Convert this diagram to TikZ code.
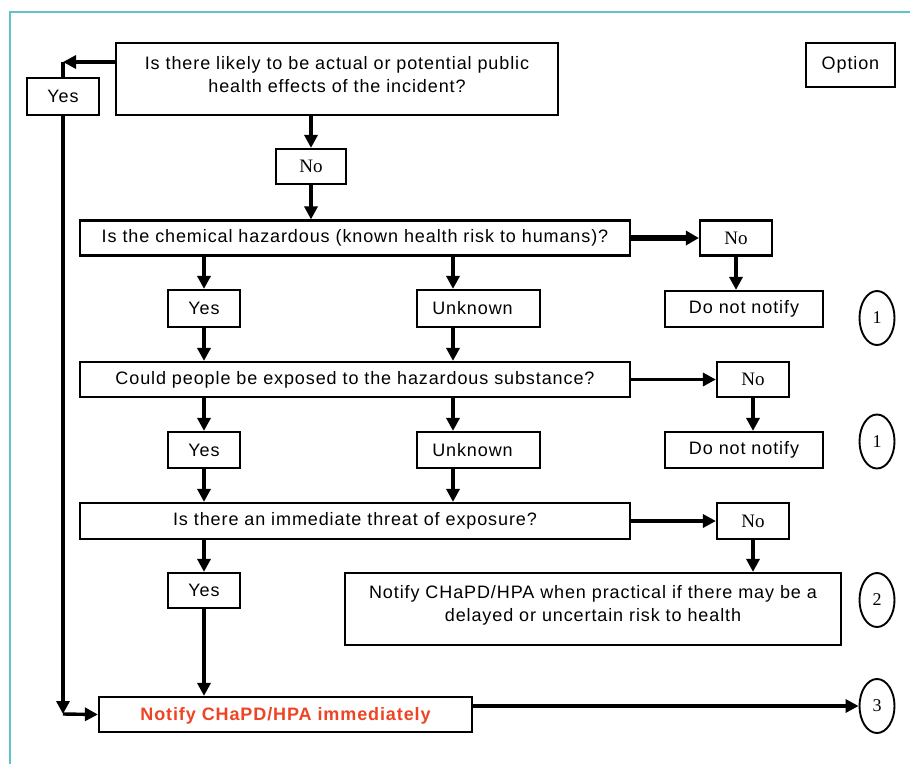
\documentclass[tikz,border=0pt]{standalone}
\usepackage{fontspec}
\setmainfont{Liberation Sans}
\newfontfamily\boxfont{Liberation Sans}[LetterSpace=5]
\newfontfamily\seriffont{Liberation Serif}
\usetikzlibrary{arrows.meta,shapes.geometric}
\definecolor{framecol}{RGB}{95,195,205}
\definecolor{alertred}{RGB}{238,68,36}
\begin{document}
\begin{tikzpicture}[x=1pt,y=-1pt,
  box/.style={draw, line width=2.2pt, inner sep=0pt, align=center,
    font=\boxfont\fontsize{18}{23}\selectfont},
  nobox/.style={box, font=\seriffont\fontsize{19}{22}\selectfont},
  circ/.style={draw, ellipse, line width=1.9pt, minimum width=35pt,
    minimum height=54pt, inner sep=0pt, font=\seriffont\fontsize{18}{20}\selectfont},
  arr/.style={line width=3.4pt, -{Triangle[length=13pt,width=13pt]}},
  plain/.style={line width=3.4pt},
]
\fill[white] (0,0) rectangle (910,764);
\useasboundingbox (0,0) rectangle (910,764);
\draw[framecol, line width=1.3pt] (10,764) -- (10,12) -- (910,12);

% nodes
\node[box, minimum width=442pt, minimum height=72pt, text depth=10pt] (q1) at (337,79)
  {Is there likely to be actual or potential public\\health effects of the incident?};
\node[box, minimum width=72pt, minimum height=37pt] (yesA) at (63,96.5) {Yes};
\node[box, minimum width=89pt, minimum height=44pt] (opt) at (850.5,65) {Option};
\node[nobox, minimum width=70pt, minimum height=35pt] (noA) at (311,166.5) {No};

\node[box, minimum width=550pt, minimum height=35pt] (q2) at (355,238) {Is the chemical hazardous (known health risk to humans)?};
\node[nobox, minimum width=72pt, minimum height=35pt] (noB) at (736,238) {No};
\node[box, minimum width=72pt, minimum height=37pt] (yes2) at (204,308.5) {Yes};
\node[box, minimum width=123pt, minimum height=37pt, text width=123pt] (unk1) at (478.5,308.5) {\hspace*{-12pt}Unknown};
\node[box, minimum width=158pt, minimum height=36pt] (dnn1) at (744,309) {Do not notify};
\node[circ] (c1) at (877,318) {1};

\node[box, minimum width=550pt, minimum height=35pt] (q3) at (355,379.5) {Could people be exposed to the hazardous substance?};
\node[nobox, minimum width=72pt, minimum height=35pt] (noC) at (753,379.5) {No};
\node[box, minimum width=72pt, minimum height=36pt] (yes3) at (204,450) {Yes};
\node[box, minimum width=123pt, minimum height=36pt, text width=123pt] (unk2) at (478.5,450) {\hspace*{-12pt}Unknown};
\node[box, minimum width=158pt, minimum height=36pt] (dnn2) at (744,450) {Do not notify};
\node[circ] (c1b) at (877,441.5) {1};

\node[box, minimum width=550pt, minimum height=36pt] (q4) at (355,521) {Is there an immediate threat of exposure?};
\node[nobox, minimum width=72pt, minimum height=36pt] (noD) at (753,521) {No};
\node[box, minimum width=72pt, minimum height=35pt] (yes4) at (204,590.5) {Yes};
\node[box, minimum width=496pt, minimum height=72pt, text depth=11pt] (n2) at (593,609)
  {Notify CHaPD/HPA when practical if there may be a\\delayed or uncertain risk to health};
\node[circ] (c2) at (877,600) {2};

\node[box, minimum width=373pt, minimum height=35pt, text depth=1pt, font=\boxfont\bfseries\fontsize{18}{21}\selectfont, text=alertred] (nr) at (285.5,714.5) {Notify CHaPD/HPA immediately};
\node[circ] (c3) at (877,706) {3};

% helper coordinates
\coordinate (cA) at (63,62);
\coordinate (cB) at (63,714);
\coordinate (xu) at (453,0);

% connectors
\draw[arr] (q1.west |- cA) -- (cA);
\draw[plain] (cA) -- (yesA.north);
\draw[arr] (yesA.south) -- (cB);
\draw[arr] (cB) -- (nr.west);

\draw[arr] (q1.south -| noA) -- (noA.north);
\draw[arr] (noA.south) -- (noA.south |- q2.north);

\draw[line width=6pt, -{Triangle[length=13pt,width=14pt]}] (q2.east) -- (noB.west);
\draw[arr] (noB.south) -- (noB.south |- dnn1.north);
\draw[arr] (q2.south -| yes2) -- (yes2.north);
\draw[arr] (q2.south -| xu) -- (unk1.north -| xu);

\draw[arr] (yes2.south) -- (yes2.south |- q3.north);
\draw[arr] (unk1.south -| xu) -- (q3.north -| xu);
\draw[arr] (q3.east) -- (noC.west);
\draw[arr] (noC.south) -- (noC.south |- dnn2.north);
\draw[arr] (q3.south -| yes3) -- (yes3.north);
\draw[arr] (q3.south -| xu) -- (unk2.north -| xu);

\draw[arr] (yes3.south) -- (yes3.south |- q4.north);
\draw[arr] (unk2.south -| xu) -- (q4.north -| xu);
\draw[arr] (q4.east) -- (noD.west);
\draw[arr] (noD.south) -- (noD.south |- n2.north);
\draw[arr] (q4.south -| yes4) -- (yes4.north);
\draw[arr] (yes4.south) -- (yes4.south |- nr.north);

\draw[arr] (nr.east |- c3.west) -- (c3.west);
\end{tikzpicture}
\end{document}
